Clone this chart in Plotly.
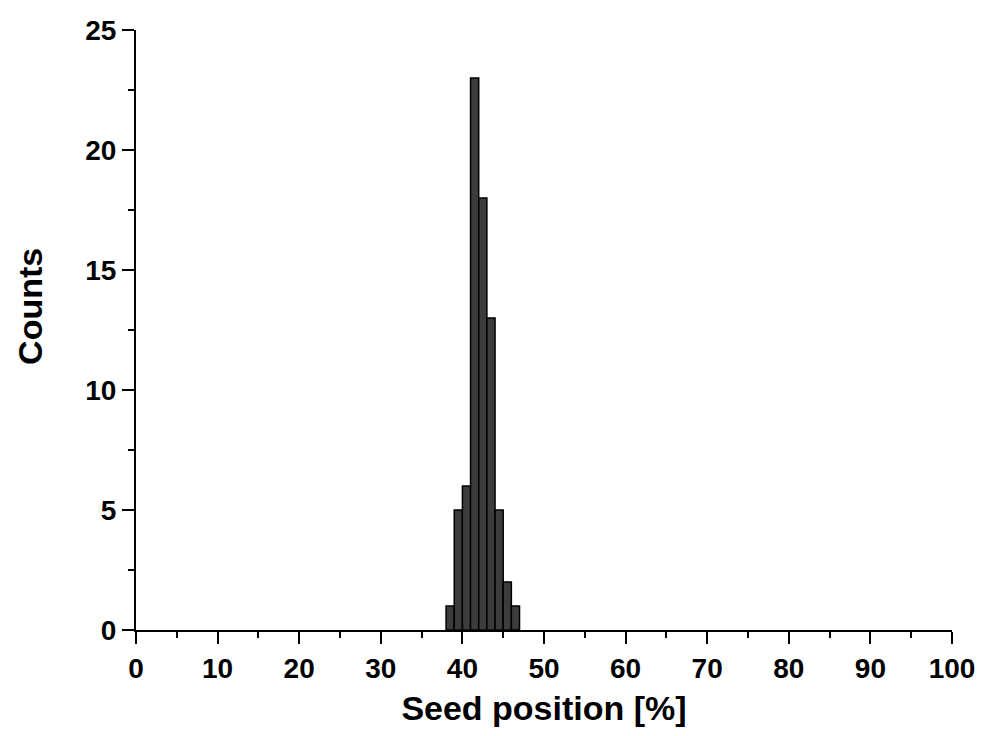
import plotly.graph_objects as go

bin_left = [38, 39, 40, 41, 42, 43, 44, 45, 46]
counts = [1, 5, 6, 23, 18, 13, 5, 2, 1]
bin_width = 1
x_ticks = [0, 10, 20, 30, 40, 50, 60, 70, 80, 90, 100]
y_ticks = [0, 5, 10, 15, 20, 25]

centers = [b + bin_width / 2 for b in bin_left]

fig = go.Figure(go.Bar(
    x=centers, y=counts, width=bin_width,
    marker=dict(color="#3c3c3c", line=dict(color="black", width=1.5)),
))

font = "Liberation Sans, Arial, sans-serif"
fig.update_layout(
    width=982, height=736,
    margin=dict(l=136, r=30, t=30, b=106),
    paper_bgcolor="white", plot_bgcolor="white",
    showlegend=False,
    font=dict(family=font, color="black"),
)
fig.update_xaxes(
    range=[0, 100], tickvals=x_ticks, ticktext=[f"<b>{v}</b>" for v in x_ticks],
    automargin=False,
    showline=True, linecolor="black", linewidth=2, mirror=False,
    ticks="outside", ticklen=12, tickwidth=2, tickcolor="black",
    minor=dict(ticks="outside", dtick=5, ticklen=6, tickwidth=2, tickcolor="black"),
    showgrid=False, zeroline=False,
    tickfont=dict(size=28, family=font),
    title=dict(text="<b>Seed position [%]</b>", font=dict(size=34, family=font), standoff=14),
)
fig.update_yaxes(
    range=[0, 25], tickvals=y_ticks, ticktext=[f"<b>{v}</b>" for v in y_ticks],
    automargin=False,
    showline=True, linecolor="black", linewidth=2, mirror=False,
    ticks="outside", ticklen=12, tickwidth=2, tickcolor="black",
    minor=dict(ticks="outside", dtick=2.5, ticklen=6, tickwidth=2, tickcolor="black"),
    showgrid=False, zeroline=False,
    tickfont=dict(size=28, family=font),
)
fig.add_annotation(
    text="<b>Counts</b>", textangle=-90, showarrow=False,
    xref="paper", yref="paper", x=-0.13, y=0.54, xanchor="center", yanchor="middle",
    font=dict(size=34, family=font, color="black"),
)

fig.write_html("out.html")
